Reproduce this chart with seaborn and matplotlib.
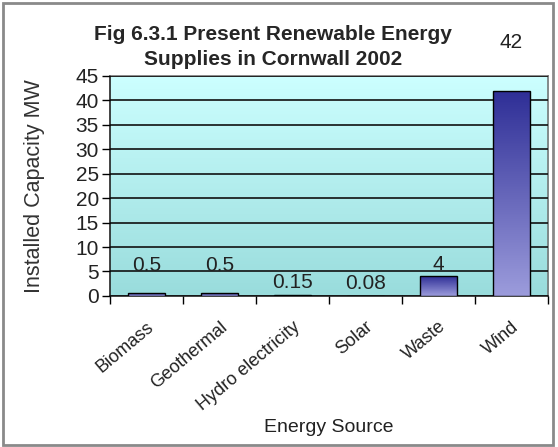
import numpy as np
import pandas as pd
import matplotlib
matplotlib.use('Agg')
import matplotlib.pyplot as plt
from matplotlib.colors import LinearSegmentedColormap
from matplotlib.patches import Rectangle
import seaborn as sns

sources = ['Biomass', 'Geothermal', 'Hydro electricity', 'Solar', 'Waste', 'Wind']
capacity = [0.5, 0.5, 0.15, 0.08, 4, 42]
labels = ['0.5', '0.5', '0.15', '0.08', '4', '42']
label_lift = [13, 13, 2, 2, 2, 28]   # points above bar top, as in the original

df = pd.DataFrame({'Energy Source': sources, 'Installed Capacity MW': capacity})

sns.set_theme(style='white')
plt.rcParams['font.family'] = ['Liberation Sans', 'DejaVu Sans']

fig = plt.figure(figsize=(5.58, 4.47), dpi=100)
ax = fig.add_axes([0.197, 0.338, 0.785, 0.492])

ax = sns.barplot(data=df, x='Energy Source', y='Installed Capacity MW',
                 width=0.5, color='#6666bb', edgecolor='black', linewidth=1, ax=ax)

# background gradient
bg = LinearSegmentedColormap.from_list('bg', ['#99dcdc', '#ccffff'])
grad = np.linspace(0, 1, 256).reshape(-1, 1)
ax.imshow(grad, cmap=bg, aspect='auto', origin='lower',
          extent=[-0.5, len(sources) - 0.5, 0, 45], zorder=0)

# bar gradients
barc = LinearSegmentedColormap.from_list('bar', ['#9c9cdc', '#2e2e96'])
for p in ax.patches:
    x0, y0 = p.get_x(), p.get_y()
    w, h = p.get_width(), p.get_height()
    im = ax.imshow(grad, cmap=barc, aspect='auto', origin='lower',
                   extent=[x0, x0 + w, y0, y0 + h], zorder=3)
    im.set_clip_path(p)
    p.set_facecolor('none')
    p.set_zorder(4)

ax.set_xlim(-0.5, len(sources) - 0.5)
ax.set_ylim(0, 45)

ax.set_yticks(range(0, 46, 5))
ax.yaxis.grid(True, color='#111111', linewidth=1.2)
ax.set_axisbelow(False)
for gl in ax.get_ygridlines():
    gl.set_zorder(2)

for i, (v, t) in enumerate(zip(capacity, labels)):
    ax.annotate(t, (i, v), xytext=(0, label_lift[i]), textcoords='offset points',
                ha='center', va='bottom', fontsize=15, color='#222222',
                annotation_clip=False, zorder=5)

# ticks between categories
ax.set_xticks(np.arange(-0.5, len(sources), 1))
ax.set_xticklabels([])
ax.set_xticks(range(len(sources)), minor=True)
ax.set_xticklabels(sources, minor=True, rotation=40, ha='right',
                   rotation_mode='anchor', fontsize=13, color='#222222')
ax.tick_params(axis='x', which='major', direction='out', length=6, width=1, color='black', bottom=True)
ax.tick_params(axis='x', which='minor', length=0, pad=16)
ax.tick_params(axis='y', direction='out', length=6, width=1, color='black', left=True,
               labelsize=15, pad=2, labelcolor='#222222')

for s in ax.spines.values():
    s.set_color('#222222')
    s.set_linewidth(1.2)
ax.spines['right'].set_color('#777777')
ax.spines['top'].set_color('#777777')

ax.set_xlabel('Energy Source', fontsize=14, labelpad=4, color='#222222')
ax.set_ylabel('Installed Capacity MW', fontsize=15.5, labelpad=22, color='#333333')

fig.text(0.49, 0.895, 'Fig 6.3.1 Present Renewable Energy\nSupplies in Cornwall 2002',
         ha='center', va='center', fontsize=15, fontweight='bold', linespacing=1.4)

fig.patches.append(Rectangle((0.006, 0.004), 0.985, 0.99, transform=fig.transFigure,
                             fill=False, edgecolor='#8a8a8a', linewidth=2))

fig.savefig('out.png', dpi=100)
